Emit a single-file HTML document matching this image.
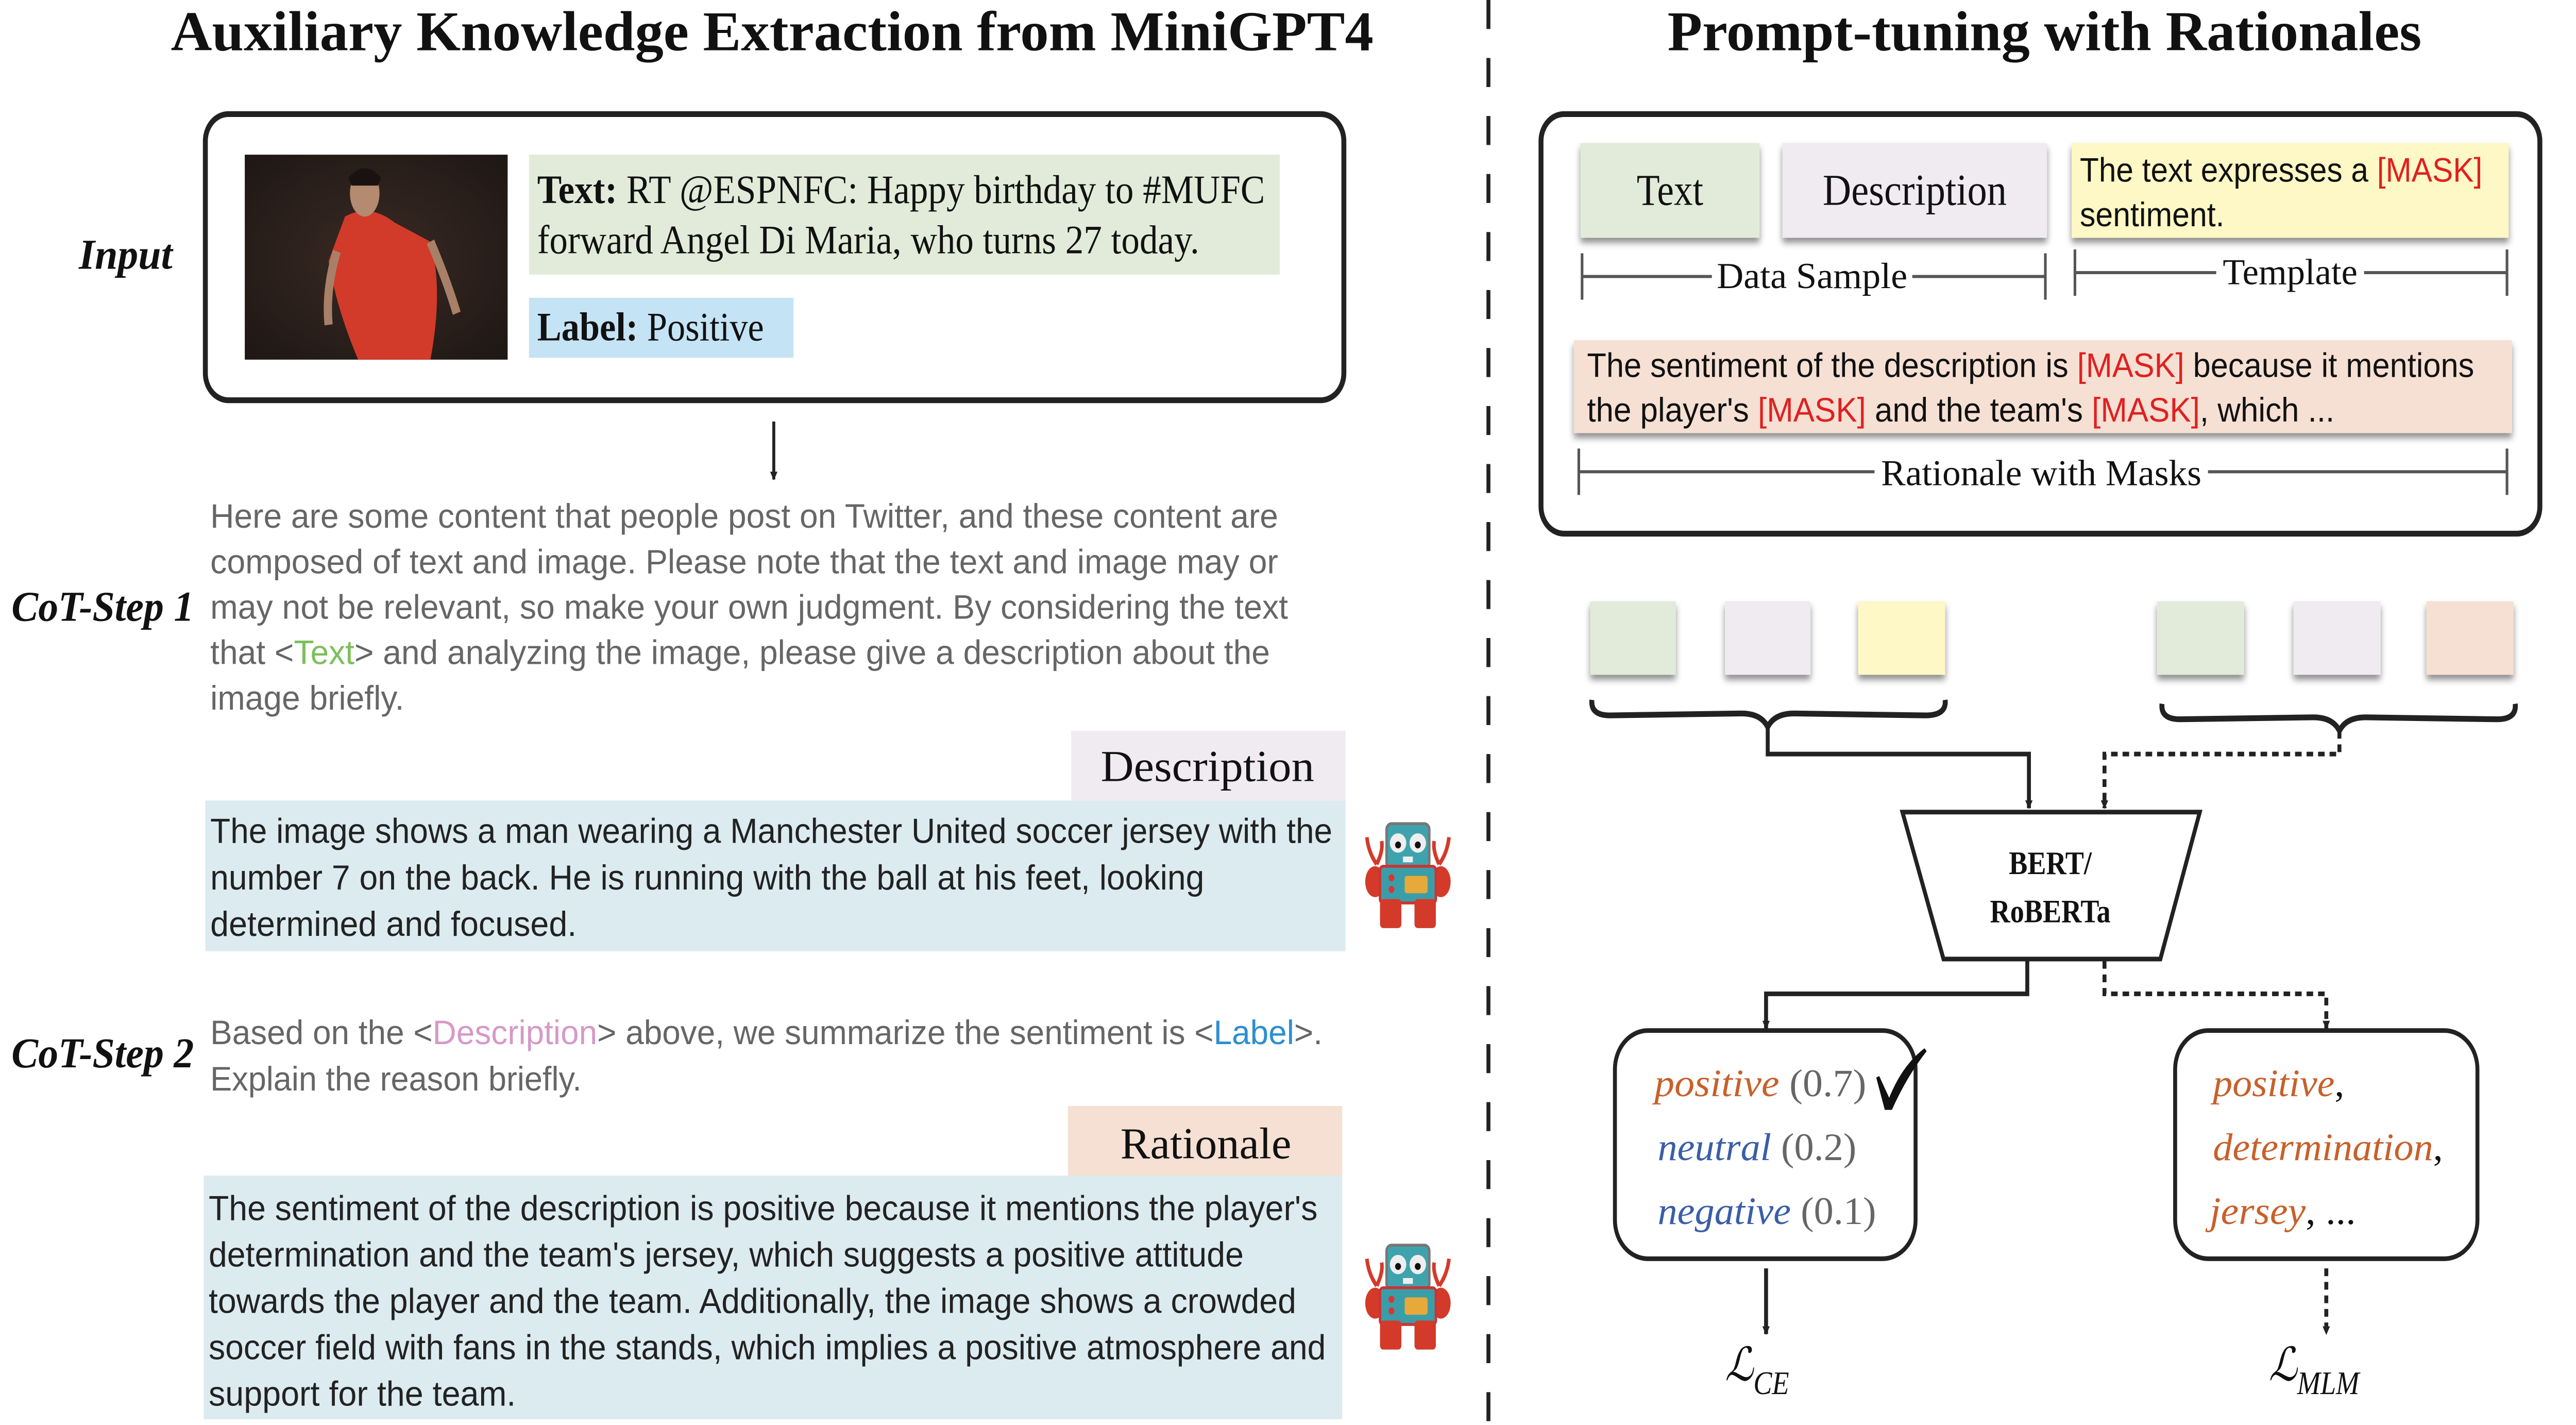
<!DOCTYPE html>
<html><head><meta charset="utf-8"><meta name="viewport" content="width=5884, initial-scale=1"><style>html,body{margin:0;padding:0;background:#fff;width:100%;height:100%;overflow:hidden}svg{display:block;position:fixed;left:0;top:0;width:100vw;height:100vh}</style></head>
<body>
<svg xmlns="http://www.w3.org/2000/svg" viewBox="0 0 1568 737" preserveAspectRatio="none">
<defs>
<filter id="sh" x="-20%" y="-20%" width="140%" height="160%"><feDropShadow dx="0" dy="2.5" stdDeviation="1.8" flood-color="#000" flood-opacity="0.45"/></filter>
<marker id="ah" viewBox="0 0 10 10" refX="9" refY="5" markerWidth="4.5" markerHeight="5.5" orient="auto" markerUnits="userSpaceOnUse"><path d="M0,0 L10,5 L0,10 z" fill="#222"/></marker>
<symbol id="robot" viewBox="0 0 66 56">
 <path d="M8,8 Q9,16 14,22 M14,22 Q18,15 17,10" stroke="#d33a2a" stroke-width="2.2" fill="none"/>
 <path d="M58,8 Q57,16 52,22 M52,22 Q48,15 49,10" stroke="#d33a2a" stroke-width="2.2" fill="none"/>
 <rect x="20" y="1" width="26" height="23" rx="3" fill="#3fa3ad" stroke="#777" stroke-width="1.5"/>
 <circle cx="27" cy="11" r="5" fill="#eee"/><circle cx="39" cy="11" r="5" fill="#eee"/>
 <circle cx="27" cy="12" r="1.8" fill="#111"/><circle cx="39" cy="12" r="1.8" fill="#111"/>
 <rect x="30" y="18" width="6" height="3" fill="#eee"/>
 <ellipse cx="13" cy="31" rx="6" ry="8" fill="#d33a2a"/><ellipse cx="53" cy="31" rx="6" ry="8" fill="#d33a2a"/>
 <rect x="16" y="23" width="34" height="19" rx="2" fill="#3a9ea8" stroke="#c33" stroke-width="1.5"/>
 <circle cx="23" cy="29" r="1.8" fill="#d33"/><circle cx="23" cy="35" r="1.8" fill="#d33"/>
 <rect x="31" y="28" width="14" height="9" rx="1.5" fill="#e6a93a"/>
 <rect x="16" y="40" width="13" height="15" rx="2" fill="#d33a2a"/><rect x="37" y="40" width="13" height="15" rx="2" fill="#d33a2a"/>
</symbol>
<radialGradient id="bg" cx="0.5" cy="0.5" r="0.7"><stop offset="0" stop-color="#3a2a24"/><stop offset="1" stop-color="#1e1714"/></radialGradient>
</defs>

<line x1="906" y1="0" x2="906" y2="737" stroke="#222" stroke-width="2.4" stroke-dasharray="15,15"/>

<text x="104" y="26" font-family="Liberation Serif, serif" font-weight="bold" font-size="29" textLength="732" lengthAdjust="spacingAndGlyphs" fill="#111">Auxiliary Knowledge Extraction from MiniGPT4</text>
<text x="1015" y="26" font-family="Liberation Serif, serif" font-weight="bold" font-size="29" textLength="459" lengthAdjust="spacingAndGlyphs" fill="#111">Prompt-tuning with Rationales</text>

<rect x="125" y="59" width="693" height="148" rx="14" fill="none" stroke="#222" stroke-width="3"/>
<rect x="149" y="80" width="160" height="106" fill="url(#bg)"/>
<path d="M210,112 Q225,105 240,115 L262,125 Q270,150 262,186 L218,186 Q205,160 200,135 Z" fill="#d23a2a"/>
<ellipse cx="222" cy="100" rx="9" ry="12" fill="#b48a70"/>
<path d="M212,92 Q222,82 232,92 L230,96 L214,96 Z" fill="#1a1210"/>
<path d="M262,125 Q272,145 278,162" stroke="#a88068" stroke-width="5" fill="none"/>
<path d="M205,130 Q198,150 200,168" stroke="#a88068" stroke-width="5" fill="none"/>
<rect x="322" y="80" width="457" height="62" fill="#e2ebd9"/>
<text x="327" y="105" font-family="Liberation Serif, serif" font-size="21" textLength="443" lengthAdjust="spacingAndGlyphs" fill="#111"><tspan font-weight="bold">Text:</tspan> RT @ESPNFC: Happy birthday to #MUFC</text>
<text x="327" y="131" font-family="Liberation Serif, serif" font-size="21" textLength="403" lengthAdjust="spacingAndGlyphs" fill="#111">forward Angel Di Maria, who turns 27 today.</text>
<rect x="322" y="154" width="161" height="31" fill="#c4e3f5"/>
<text x="327" y="176" font-family="Liberation Serif, serif" font-size="21" textLength="138" lengthAdjust="spacingAndGlyphs" fill="#111"><tspan font-weight="bold">Label:</tspan> Positive</text>
<text x="48" y="139" font-family="Liberation Serif, serif" font-weight="bold" font-style="italic" font-size="22" textLength="57" lengthAdjust="spacingAndGlyphs" fill="#111">Input</text>
<line x1="471" y1="218" x2="471" y2="248" stroke="#222" stroke-width="1.8" marker-end="url(#ah)"/>

<text x="7" y="321" font-family="Liberation Serif, serif" font-weight="bold" font-style="italic" font-size="22" textLength="111" lengthAdjust="spacingAndGlyphs" fill="#111">CoT-Step 1</text>
<g font-family="Liberation Sans, sans-serif" font-size="17.5" fill="#666">
<text x="128" y="273" textLength="650" lengthAdjust="spacingAndGlyphs">Here are some content that people post on Twitter, and these content are</text>
<text x="128" y="296.5" textLength="650" lengthAdjust="spacingAndGlyphs">composed of text and image. Please note that the text and image may or</text>
<text x="128" y="320" textLength="656" lengthAdjust="spacingAndGlyphs">may not be relevant, so make your own judgment. By considering the text</text>
<text x="128" y="343.5" textLength="645" lengthAdjust="spacingAndGlyphs">that &lt;<tspan fill="#7cbf5a">Text</tspan>&gt; and analyzing the image, please give a description about the</text>
<text x="128" y="367" textLength="118" lengthAdjust="spacingAndGlyphs">image briefly.</text>
</g>
<rect x="652" y="378" width="167" height="36" fill="#efebf1"/>
<text x="670" y="404" font-family="Liberation Serif, serif" font-size="23" textLength="130" lengthAdjust="spacingAndGlyphs" fill="#111">Description</text>
<rect x="125" y="414" width="694" height="78" fill="#dcebf0"/>
<g font-family="Liberation Sans, sans-serif" font-size="18" fill="#222">
<text x="128" y="436" textLength="683" lengthAdjust="spacingAndGlyphs">The image shows a man wearing a Manchester United soccer jersey with the</text>
<text x="128" y="460" textLength="605" lengthAdjust="spacingAndGlyphs">number 7 on the back. He is running with the ball at his feet, looking</text>
<text x="128" y="484" textLength="223" lengthAdjust="spacingAndGlyphs">determined and focused.</text>
</g>
<use href="#robot" x="824" y="425" width="66" height="56"/>

<text x="7" y="552" font-family="Liberation Serif, serif" font-weight="bold" font-style="italic" font-size="22" textLength="111" lengthAdjust="spacingAndGlyphs" fill="#111">CoT-Step 2</text>
<g font-family="Liberation Sans, sans-serif" font-size="17.5" fill="#666">
<text x="128" y="540" textLength="677" lengthAdjust="spacingAndGlyphs">Based on the &lt;<tspan fill="#d59ac8">Description</tspan>&gt; above, we summarize the sentiment is &lt;<tspan fill="#2d8fd0">Label</tspan>&gt;.</text>
<text x="128" y="564" textLength="226" lengthAdjust="spacingAndGlyphs">Explain the reason briefly.</text>
</g>
<rect x="650" y="572" width="167" height="36" fill="#f5e0d3"/>
<text x="682" y="599" font-family="Liberation Serif, serif" font-size="23" textLength="104" lengthAdjust="spacingAndGlyphs" fill="#111">Rationale</text>
<rect x="124" y="608" width="693" height="126" fill="#dcebf0"/>
<g font-family="Liberation Sans, sans-serif" font-size="18" fill="#222">
<text x="127" y="631" textLength="675" lengthAdjust="spacingAndGlyphs">The sentiment of the description is positive because it mentions the player's</text>
<text x="127" y="655" textLength="630" lengthAdjust="spacingAndGlyphs">determination and the team's jersey, which suggests a positive attitude</text>
<text x="127" y="679" textLength="662" lengthAdjust="spacingAndGlyphs">towards the player and the team. Additionally, the image shows a crowded</text>
<text x="127" y="703" textLength="680" lengthAdjust="spacingAndGlyphs">soccer field with fans in the stands, which implies a positive atmosphere and</text>
<text x="127" y="727" textLength="187" lengthAdjust="spacingAndGlyphs">support for the team.</text>
</g>
<use href="#robot" x="824" y="643" width="66" height="56"/>

<rect x="938" y="59" width="608" height="217" rx="14" fill="none" stroke="#222" stroke-width="3"/>
<rect x="962" y="74" width="109" height="49" fill="#e2ebd9" filter="url(#sh)"/>
<text x="1016.5" y="106" text-anchor="middle" font-family="Liberation Serif, serif" font-size="23" fill="#111">Text</text>
<rect x="1085" y="74" width="161" height="49" fill="#efebf1" filter="url(#sh)"/>
<text x="1165.5" y="106" text-anchor="middle" font-family="Liberation Serif, serif" font-size="23" textLength="112" lengthAdjust="spacingAndGlyphs" fill="#111">Description</text>
<rect x="1261" y="74" width="266" height="49" fill="#fdf8c5" filter="url(#sh)"/>
<g font-family="Liberation Sans, sans-serif" font-size="17.5" fill="#111">
<text x="1266" y="94" textLength="245" lengthAdjust="spacingAndGlyphs">The text expresses a <tspan fill="#e02020">[MASK]</tspan></text>
<text x="1266" y="117" textLength="88" lengthAdjust="spacingAndGlyphs">sentiment.</text>
</g>
<g stroke="#555" stroke-width="1.6">
<line x1="963" y1="143" x2="1042" y2="143"/><line x1="1164" y1="143" x2="1245" y2="143"/>
<line x1="963" y1="131" x2="963" y2="155"/><line x1="1245" y1="131" x2="1245" y2="155"/>
<line x1="1263" y1="141" x2="1349" y2="141"/><line x1="1439" y1="141" x2="1526" y2="141"/>
<line x1="1263" y1="129" x2="1263" y2="153"/><line x1="1526" y1="129" x2="1526" y2="153"/>
<line x1="961" y1="244" x2="1141" y2="244"/><line x1="1344" y1="244" x2="1526" y2="244"/>
<line x1="961" y1="232" x2="961" y2="256"/><line x1="1526" y1="232" x2="1526" y2="256"/>
</g>
<text x="1045" y="149" font-family="Liberation Serif, serif" font-size="19" textLength="116" lengthAdjust="spacingAndGlyphs" fill="#111">Data Sample</text>
<text x="1353" y="147" font-family="Liberation Serif, serif" font-size="19" textLength="82" lengthAdjust="spacingAndGlyphs" fill="#111">Template</text>
<rect x="958" y="176" width="571" height="48" fill="#f5e0d3" filter="url(#sh)"/>
<g font-family="Liberation Sans, sans-serif" font-size="17.5" fill="#111">
<text x="966" y="195" textLength="540" lengthAdjust="spacingAndGlyphs">The sentiment of the description is <tspan fill="#e02020">[MASK]</tspan> because it mentions</text>
<text x="966" y="218" textLength="455" lengthAdjust="spacingAndGlyphs">the player's <tspan fill="#e02020">[MASK]</tspan> and the team's <tspan fill="#e02020">[MASK]</tspan>, which ...</text>
</g>
<text x="1145" y="251" font-family="Liberation Serif, serif" font-size="19" textLength="195" lengthAdjust="spacingAndGlyphs" fill="#111">Rationale with Masks</text>

<rect x="968" y="311" width="52" height="38" fill="#e2ebd9" filter="url(#sh)"/>
<rect x="1050" y="311" width="52" height="38" fill="#efebf1" filter="url(#sh)"/>
<rect x="1131" y="311" width="53" height="38" fill="#fdf8c5" filter="url(#sh)"/>
<rect x="1313" y="311" width="53" height="38" fill="#e2ebd9" filter="url(#sh)"/>
<rect x="1396" y="311" width="53" height="38" fill="#efebf1" filter="url(#sh)"/>
<rect x="1477" y="311" width="53" height="38" fill="#f5e0d3" filter="url(#sh)"/>

<path d="M969,362 Q968,370 980,370 L1060,369 Q1072,369 1076,376 Q1080,369 1092,369 L1172,370 Q1185,370 1184,362" fill="none" stroke="#222" stroke-width="3"/>
<path d="M1316,364 Q1315,372 1327,372 L1408,371 Q1420,371 1424,378 Q1428,371 1440,371 L1520,372 Q1532,372 1531,364" fill="none" stroke="#222" stroke-width="3"/>

<path d="M1076,376 L1076,390 L1235,390 L1235,418" fill="none" stroke="#222" stroke-width="2.4" marker-end="url(#ah)"/>
<path d="M1424,378 L1424,390 L1281,390 L1281,418" fill="none" stroke="#222" stroke-width="2.4" stroke-dasharray="4,3" marker-end="url(#ah)"/>

<path d="M1158,420 L1339,420 L1315,496 L1183,496 Z" fill="#fff" stroke="#222" stroke-width="2.4"/>
<text x="1248" y="452" text-anchor="middle" font-family="Liberation Serif, serif" font-weight="bold" font-size="17" fill="#111">BERT/</text>
<text x="1248" y="477" text-anchor="middle" font-family="Liberation Serif, serif" font-weight="bold" font-size="17" fill="#111">RoBERTa</text>

<path d="M1234,497 L1234,514 L1075,514 L1075,532" fill="none" stroke="#222" stroke-width="2.4" marker-end="url(#ah)"/>
<path d="M1281,497 L1281,514 L1416,514 L1416,532" fill="none" stroke="#222" stroke-width="2.4" stroke-dasharray="4,3" marker-end="url(#ah)"/>

<rect x="983" y="533" width="183" height="118" rx="20" fill="#fff" stroke="#222" stroke-width="2.4"/>
<rect x="1324" y="533" width="184" height="118" rx="20" fill="#fff" stroke="#222" stroke-width="2.4"/>
<g font-family="Liberation Serif, serif" font-size="20">
<text x="1007" y="567" textLength="129" lengthAdjust="spacingAndGlyphs"><tspan fill="#c8602a" font-style="italic">positive</tspan><tspan fill="#666"> (0.7)</tspan></text>
<text x="1009" y="600" textLength="121" lengthAdjust="spacingAndGlyphs"><tspan fill="#3a5ea8" font-style="italic">neutral</tspan><tspan fill="#666"> (0.2)</tspan></text>
<text x="1009" y="633" textLength="133" lengthAdjust="spacingAndGlyphs"><tspan fill="#3a5ea8" font-style="italic">negative</tspan><tspan fill="#666"> (0.1)</tspan></text>
<text x="1347" y="567" textLength="80" lengthAdjust="spacingAndGlyphs"><tspan fill="#c8602a" font-style="italic">positive</tspan><tspan fill="#111">,</tspan></text>
<text x="1347" y="600" textLength="140" lengthAdjust="spacingAndGlyphs"><tspan fill="#c8602a" font-style="italic">determination</tspan><tspan fill="#111">,</tspan></text>
<text x="1345" y="633" textLength="89" lengthAdjust="spacingAndGlyphs"><tspan fill="#c8602a" font-style="italic">jersey</tspan><tspan fill="#111">, ...</tspan></text>
</g>
<path d="M1143,557 L1150,570 Q1158,552 1172,543 Q1160,556 1151,573 L1148,573 Z" fill="#111" stroke="#111" stroke-width="2"/>

<line x1="1075" y1="656" x2="1075" y2="690" stroke="#222" stroke-width="2.4" marker-end="url(#ah)"/>
<line x1="1416" y1="656" x2="1416" y2="690" stroke="#222" stroke-width="2.4" stroke-dasharray="4,3" marker-end="url(#ah)"/>
<text x="1050" y="714" font-family="DejaVu Serif, serif" font-style="italic" font-size="24" fill="#111">ℒ<tspan font-family="Liberation Serif, serif" font-size="17" dy="7">CE</tspan></text>
<text x="1381" y="714" font-family="DejaVu Serif, serif" font-style="italic" font-size="24" fill="#111">ℒ<tspan font-family="Liberation Serif, serif" font-size="17" dy="7">MLM</tspan></text>
</svg>
</body></html>
